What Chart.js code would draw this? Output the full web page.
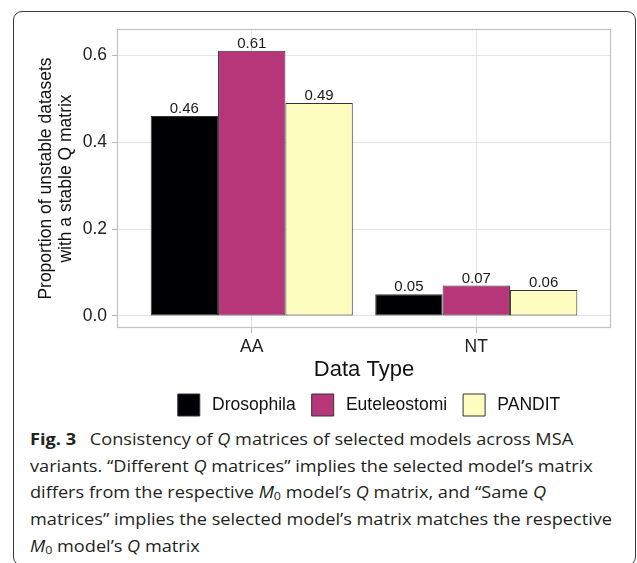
<!DOCTYPE html>
<html>
<head>
<meta charset="utf-8">
<script src="https://cdn.jsdelivr.net/npm/chart.js@4.4.1/dist/chart.umd.min.js"></script>
<style>
  html, body { margin: 0; padding: 0; background: #fff; }
  body { width: 637px; height: 563px; position: relative; overflow: hidden; }
  #frame {
    position: absolute; left: 13px; top: 11px; width: 623px; height: 555px;
    border: 1.5px solid #3a3a3a; border-radius: 9px; box-sizing: border-box;
  }
  #plot { position: absolute; left: 0; top: 0; width: 637px; height: 426px; }
  #caption {
    position: absolute; left: 30px; top: 426px;
    font-family: "Open Sans", "Noto Sans", sans-serif; font-size: 16px;
    line-height: 26.7px; color: #231f20; transform-origin: 0 0;
  }
  #caption div { white-space: nowrap; }
  #caption b { font-weight: 700; margin-right: 8px; }
  #caption i { font-style: italic; }
  #caption sub { font-size: 11px; vertical-align: -2px; line-height: 0; }
</style>
</head>
<body>
<div id="frame"></div>
<div id="plot"><canvas id="chart" width="637" height="426"></canvas></div>
<div id="caption">
  <div><b>Fig. 3</b> Consistency of <i>Q</i> matrices of selected models across MSA</div>
  <div>variants. “Different <i>Q</i> matrices” implies the selected model’s matrix</div>
  <div>differs from the respective <i>M</i><sub>0</sub> model’s <i>Q</i> matrix, and “Same <i>Q</i></div>
  <div id="longLine">matrices” implies the selected model’s matrix matches the respective</div>
  <div><i>M</i><sub>0</sub> model’s <i>Q</i> matrix</div>
</div>
<script>
// Data types on the x axis and the proportion per data source
const categories = ['AA', 'NT'];
const seriesNames = ['Drosophila', 'Euteleostomi', 'PANDIT'];
const drosophila = [0.46, 0.05];
const euteleostomi = [0.61, 0.07];
const pandit = [0.49, 0.06];
const yTicks = [0.0, 0.2, 0.4, 0.6];

// magma palette, three steps
const fills = ['#000004', '#B63679', '#FCFDBF'];

const seriesValues = [drosophila, euteleostomi, pandit];
const sansFont = '"Liberation Sans", Arial, Helvetica, sans-serif';

Chart.defaults.font.family = sansFont;
Chart.defaults.color = '#222';

// value printed above each bar
const valueLabels = {
  id: 'valueLabels',
  afterDatasetsDraw(chart) {
    const { ctx } = chart;
    ctx.save();
    ctx.font = '15px ' + sansFont;
    ctx.fillStyle = '#1a1a1a';
    ctx.textAlign = 'center';
    ctx.textBaseline = 'alphabetic';
    chart.data.datasets.forEach((ds, di) => {
      chart.getDatasetMeta(di).data.forEach((bar, i) => {
        ctx.fillText(ds.data[i].y.toFixed(2), bar.x, bar.y - 3);
      });
    });
    ctx.restore();
  }
};

// grey border round the panel
const panelBorder = {
  id: 'panelBorder',
  afterDatasetsDraw(chart) {
    const { ctx, chartArea: a } = chart;
    ctx.save();
    ctx.strokeStyle = '#c2c2c2';
    ctx.lineWidth = 1.2;
    ctx.strokeRect(a.left + 0.5, a.top + 0.5, a.right - a.left - 1, a.bottom - a.top - 1);
    ctx.restore();
  }
};

// centre the legend row on the whole figure rather than the panel
const legendShift = {
  id: 'legendShift',
  afterLayout(chart) {
    const lg = chart.legend;
    if (lg) { lg.left += 5; lg.right += 5; }
  }
};

new Chart(document.getElementById('chart'), {
  type: 'bar',
  data: {
    datasets: seriesValues.map((vals, k) => ({
      label: seriesNames[k],
      data: vals.map((v, i) => ({ x: i + 1, y: v })),
      backgroundColor: fills[k],
      borderColor: '#333333',
      borderWidth: 1,
      borderSkipped: false,
      categoryPercentage: 0.9,
      barPercentage: 1.0
    }))
  },
  options: {
    responsive: false,
    animation: false,
    events: [],
    layout: { padding: { left: 0, right: 26, top: 29, bottom: 0 } },
    scales: {
      x: {
        type: 'linear',
        min: 0.4,
        max: 2.6,
        offset: false,
        afterBuildTicks(s) { s.ticks = categories.map((c, i) => ({ value: i + 1 })); },
        afterFit(s) { s.height = 50; },
        ticks: {
          autoSkip: false, maxRotation: 0, padding: 4,
          font: { size: 17.5 }, color: '#222',
          callback: (v, i) => categories[i]
        },
        grid: { color: '#e4e4e4', tickColor: '#b5b5b5', tickLength: 5, offset: false },
        border: { display: false },
        title: {
          display: true, text: 'Data Type', color: '#111',
          font: { size: 22, lineHeight: 0.72 }, padding: { top: 0, bottom: 0 }
        }
      },
      y: {
        min: -0.0276,
        max: 0.66,
        afterBuildTicks(s) { s.ticks = yTicks.map(v => ({ value: v })); },
        afterFit(s) { s.width = 117; },
        ticks: {
          padding: 5, font: { size: 17.5 }, color: '#222',
          callback: v => v.toFixed(1)
        },
        grid: { color: '#e4e4e4', tickColor: '#b5b5b5', tickLength: 5 },
        border: { display: false },
        title: {
          display: true,
          text: ['Proportion of unstable datasets', 'with a stable Q matrix'],
          color: '#111',
          font: { size: 17.5, lineHeight: 1.18 },
          padding: { top: 35.6, bottom: 0 }
        }
      }
    },
    plugins: {
      legend: {
        position: 'bottom',
        fullSize: false,
        labels: {
          boxWidth: 22, boxHeight: 22, padding: 16,
          font: { size: 17.5 }, color: '#111',
          generateLabels(chart) {
            const items = Chart.defaults.plugins.legend.labels.generateLabels(chart);
            items.forEach(it => { it.text = '\u2009' + it.text; });
            return items;
          }
        }
      },
      tooltip: { enabled: false }
    }
  },
  plugins: [valueLabels, panelBorder, legendShift]
});

// squeeze the caption so its longest line ends where the text block ends
function fitCaption() {
  const cap = document.getElementById('caption');
  const line = document.getElementById('longLine');
  const range = document.createRange();
  range.selectNodeContents(line);
  const w = range.getBoundingClientRect().width;
  if (w > 0) cap.style.transform = 'scaleX(' + (582 / w) + ')';
}
if (document.fonts && document.fonts.ready) document.fonts.ready.then(fitCaption); else fitCaption();
</script>
</body>
</html>
